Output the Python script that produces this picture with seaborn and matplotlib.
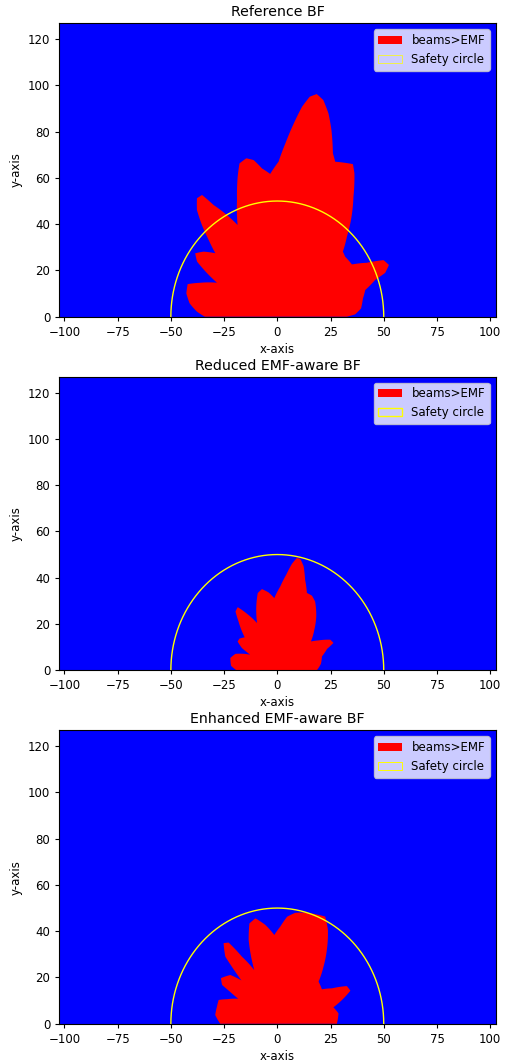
import numpy as np
import matplotlib
matplotlib.use("Agg")
import matplotlib.pyplot as plt
import seaborn as sns
from matplotlib.patches import Patch

# ---------------- data ----------------
titles = ["Reference BF", "Reduced EMF-aware BF", "Enhanced EMF-aware BF"]
safety_radius = 50.0

# beam-exceeding-EMF contour: boundary radius (m) vs azimuth angle (deg)
ref_angle = [0, 1.6, 5.2, 11.1, 15.6, 19.1, 20.5, 23.1, 26.1, 29.0, 32.8, 39.1, 42.4,
             46.6, 50.4, 55.4, 59.7, 61.7, 65.0, 67.9, 69.7, 72.5, 74.7, 77.0, 79.1,
             80.9, 82.7, 84.7, 87.1, 89.5, 93.1, 96.4, 99.3, 102.0, 105.0, 107.1,
             110.6, 115.2, 118.3, 121.8, 123.9, 126.4, 129.3, 131.8, 134.2, 136.7,
             140.9, 144.6, 147.7, 150.3, 152.6, 157.9, 161.5, 166.7, 172.0, 176.7, 180]
ref_radius = [32.7, 36.6, 39.5, 41.0, 42.9, 48.7, 54.1, 57.0, 55.6, 48.1, 41.7, 41.1, 41.7,
              47.6, 54.3, 63.0, 71.8, 74.9, 73.5, 72.3, 75.3, 84.6, 91.1, 96.1, 98.0,
              96.3, 91.5, 83.9, 75.0, 67.0, 61.8, 64.5, 68.6, 70.0, 68.6, 63.3,
              53.8, 43.8, 49.9, 56.8, 63.4, 63.6, 59.6, 53.1, 46.2, 40.0,
              44.6, 47.3, 44.6, 38.0, 31.9, 39.0, 44.4, 43.9, 41.6, 37.8, 34.0]

red_angle = [0, 7.8, 15.9, 21.5, 24.1, 27.9, 33.6, 38.2, 45.2, 51.8, 59.1, 63.2, 67.4,
             71.5, 74.6, 77.3, 79.3, 81.5, 84.2, 87.8, 92.6, 97.0, 101.6, 105.4, 109.7,
             115.0, 120.2, 124.3, 127.7, 130.8, 137.1, 142.3, 146.3, 150.0, 152.2,
             160.2, 166.5, 175.0, 180]
red_radius = [18.6, 20.7, 21.8, 25.1, 28.9, 28.2, 23.3, 20.1, 24.7, 29.6, 34.6, 36.1, 36.2,
              41.2, 46.6, 49.3, 49.4, 46.5, 41.5, 36.2, 31.2, 33.9, 35.8, 34.6, 29.3,
              22.5, 28.2, 33.0, 32.1, 27.9, 20.9, 22.4, 22.4, 19.2, 14.4,
              20.9, 22.7, 21.8, 19.2]

enh_angle = [0, 8.9, 15.1, 18.7, 22.6, 26.5, 30.8, 35.4, 43.2, 48.7, 53.9, 59.6, 64.1,
             69.4, 74.7, 80.0, 84.3, 88.1, 92.1, 97.5, 102.7, 106.8, 110.4, 113.0, 115.0,
             119.8, 123.1, 125.9, 130.1, 132.0, 136.3, 143.3, 147.1, 148.0, 149.5,
             155.8, 159.5, 165.3, 172.6, 180]
enh_radius = [28.0, 29.1, 27.3, 32.1, 37.2, 36.5, 29.9, 25.7, 26.6, 32.9, 39.5, 47.0, 51.5,
              50.6, 49.8, 48.7, 46.5, 42.0, 38.4, 43.1, 46.7, 45.3, 38.6, 31.5, 25.6,
              33.4, 41.9, 43.0, 37.9, 25.2, 30.5, 33.0, 30.9, 26.5, 21.3,
              25.9, 29.4, 29.3, 29.4, 26.8]

patterns = [(ref_angle, ref_radius), (red_angle, red_radius), (enh_angle, enh_radius)]
legend_edge_lw = [0.5, 1.0, 0.7]

# ---------------- style ----------------
sns.set_style("ticks")
plt.rcParams.update({
    "font.family": ["DejaVu Sans"],
    "font.size": 8.5, "axes.titlesize": 10.2, "axes.labelsize": 8.5,
    "xtick.labelsize": 8.5, "ytick.labelsize": 8.5, "legend.fontsize": 8.5,
    "axes.edgecolor": "black", "xtick.color": "black", "ytick.color": "black",
    "axes.labelcolor": "black", "text.color": "black",
    "xtick.direction": "out", "ytick.direction": "out",
    "xtick.major.size": 3.0, "ytick.major.size": 3.0,
    "axes.linewidth": 0.8,
})

fig = plt.figure(figsize=(5.09, 10.61), dpi=100)
left, width, height = 0.1165, 0.8574, 0.2765
bottoms = [0.7015, 0.3683, 0.0351]

theta_fine = np.linspace(0, 180, 1441)
circ_t = np.radians(np.linspace(0, 180, 361))

for i, (title, (ang, rad)) in enumerate(zip(titles, patterns)):
    ax = fig.add_axes([left, bottoms[i], width, height])
    ax.set_facecolor("#0000ff")
    r = np.interp(theta_fine, ang, rad)
    t = np.radians(theta_fine)
    ax.fill(r * np.cos(t), r * np.sin(t), color="#ff0000", lw=0, zorder=2)
    sns.lineplot(x=safety_radius * np.cos(circ_t), y=safety_radius * np.sin(circ_t),
                 sort=False, color="yellow", lw=1.0, ax=ax, zorder=3, legend=False)
    ax.set_xlim(-102.4, 102.6)
    ax.set_ylim(0, 126.8)
    ax.set_xticks([-100, -75, -50, -25, 0, 25, 50, 75, 100])
    ax.set_yticks([0, 20, 40, 60, 80, 100, 120])
    ax.set_title(title, pad=5)
    ax.set_xlabel("x-axis", labelpad=3)
    ax.set_ylabel("y-axis", labelpad=4)
    for s in ax.spines.values():
        s.set_visible(True)
        s.set_color("black")
    handles = [Patch(facecolor="#ff0000", edgecolor="none", lw=0, label="beams>EMF"),
               Patch(facecolor="none", edgecolor="yellow", lw=legend_edge_lw[i],
                     label="Safety circle")]
    ax.legend(handles=handles, loc="upper right", frameon=True, framealpha=0.8,
              facecolor="white", edgecolor="#cccccc", fancybox=True)

fig.savefig("out.png", dpi=100)
